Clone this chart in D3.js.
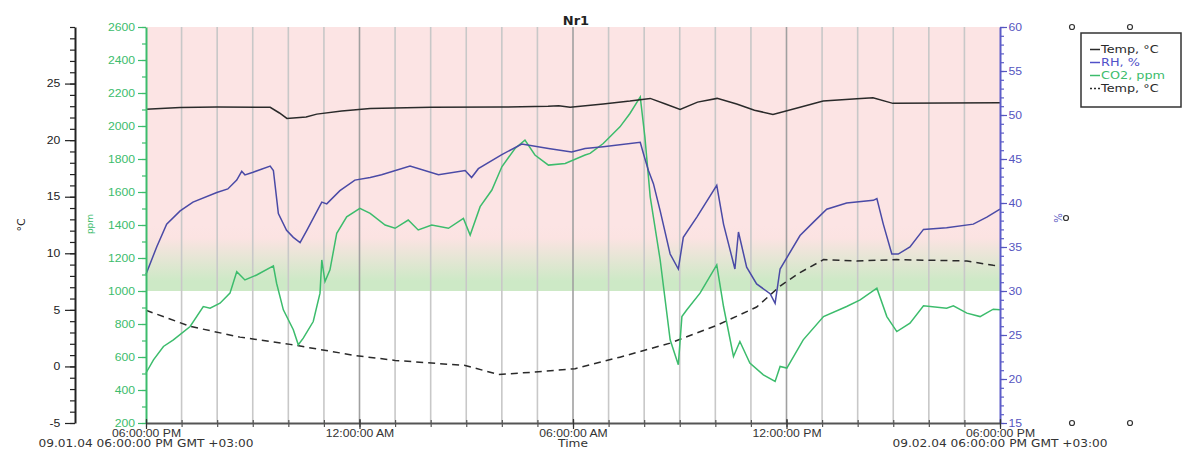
<!DOCTYPE html>
<html>
<head>
<meta charset="utf-8">
<script src="https://cdn.jsdelivr.net/npm/d3@7"></script>
<style>
  body { margin: 0; background: #fff; }
  svg { display: block; font-family: "DejaVu Sans", Verdana, sans-serif; }
</style>
</head>
<body>
<div id="chart"></div>
<script>
// time is in hours after 09.01.04 06:00:00 PM
var timeTicks = [0, 6, 12, 18, 24]
var timeLabels = ["06:00:00 PM", "12:00:00 AM", "06:00:00 AM", "12:00:00 PM", "06:00:00 PM"]
var dateLabels = ["09.01.04 06:00:00 PM GMT +03:00", "Time", "09.02.04 06:00:00 PM GMT +03:00"]
var dateLabelHours = [0, 12, 24]

var tempTicks = [-5, 0, 5, 10, 15, 20, 25]
var co2Ticks = [200, 400, 600, 800, 1000, 1200, 1400, 1600, 1800, 2000, 2200, 2400, 2600]
var rhTicks = [15, 20, 25, 30, 35, 40, 45, 50, 55, 60]

// CO2 limit bands (ppm)
var co2Limit = 1000
var co2Warn = 1400

// Temp, °C (inside)
var tempIn = [[0, 22.72], [0.96, 22.89], [2.0, 22.92], [3.49, 22.9], [3.75, 22.4], [3.96, 21.92], [4.5, 22.05],
  [4.8, 22.3], [5.5, 22.57], [6.3, 22.8], [8.0, 22.9], [10.0, 22.92], [11.3, 23.0], [11.6, 23.05], [11.92, 22.9],
  [12.85, 23.19], [13.6, 23.45], [14.17, 23.69], [14.6, 23.2], [15.01, 22.72], [15.5, 23.36], [16.05, 23.69],
  [16.6, 23.19], [17.1, 22.65], [17.62, 22.27], [18.38, 22.9], [19.03, 23.45], [19.98, 23.65], [20.43, 23.74],
  [20.99, 23.25], [24, 23.3]]

// RH, %
var rh = [[0, 31.9], [0.3, 35.0], [0.58, 37.6], [0.96, 39.1], [1.32, 40.1], [1.99, 41.2], [2.3, 41.6], [2.55, 42.6],
  [2.69, 43.6], [2.78, 43.2], [3.01, 43.5], [3.49, 44.2], [3.58, 43.7], [3.72, 38.8], [3.95, 36.9], [4.14, 36.1],
  [4.33, 35.5], [4.52, 36.9], [4.94, 40.1], [5.08, 39.9], [5.45, 41.4], [5.87, 42.6], [6.3, 42.9], [6.62, 43.2],
  [7.42, 44.2], [8.22, 43.2], [8.97, 43.7], [9.15, 42.9], [9.34, 43.9], [10.0, 45.5], [10.56, 46.7], [11.31, 46.2],
  [11.96, 45.8], [12.34, 46.2], [12.85, 46.4], [13.89, 46.9], [13.98, 45.6], [14.12, 43.7], [14.26, 42.2],
  [14.45, 39.1], [14.73, 34.2], [14.96, 32.5], [15.1, 36.1], [15.48, 38.4], [16.04, 42.0], [16.23, 37.6],
  [16.55, 32.5], [16.65, 36.7], [16.88, 32.7], [17.16, 30.8], [17.54, 29.7], [17.68, 28.6], [17.82, 32.5],
  [18.38, 36.3], [18.75, 37.8], [19.13, 39.3], [19.69, 40.0], [20.44, 40.3], [20.54, 40.5], [20.72, 37.6],
  [20.96, 34.2], [21.14, 34.2], [21.47, 35.0], [21.85, 37.0], [22.5, 37.2], [23.25, 37.6], [23.63, 38.4], [24, 39.3]]

// CO2, ppm
var co2 = [[0, 503], [0.21, 583], [0.49, 664], [0.77, 704], [1.24, 785], [1.61, 906], [1.8, 896], [2.08, 926],
  [2.36, 987], [2.55, 1117], [2.78, 1067], [3.11, 1097], [3.58, 1152], [3.67, 1047], [3.86, 886], [4.14, 765],
  [4.28, 674], [4.42, 714], [4.7, 815], [4.89, 987], [4.94, 1188], [5.03, 1057], [5.17, 1128], [5.36, 1350],
  [5.64, 1450], [6.01, 1501], [6.3, 1471], [6.72, 1400], [7.0, 1380], [7.37, 1430], [7.65, 1370], [8.03, 1400],
  [8.5, 1380], [8.92, 1440], [9.11, 1339], [9.39, 1511], [9.72, 1612], [10.0, 1753], [10.37, 1864], [10.65, 1914],
  [10.93, 1824], [11.31, 1763], [11.78, 1773], [12.34, 1824], [12.48, 1834], [12.85, 1894], [13.32, 1995],
  [13.6, 2076], [13.89, 2176], [14.02, 1934], [14.17, 1571], [14.45, 1188], [14.73, 704], [14.96, 553],
  [15.06, 845], [15.2, 886], [15.57, 987], [16.04, 1158], [16.23, 906], [16.51, 603], [16.69, 694], [16.97, 563],
  [17.35, 492], [17.68, 452], [17.82, 543], [18.01, 533], [18.47, 704], [19.04, 845], [19.69, 906], [20.07, 946],
  [20.54, 1017], [20.82, 845], [21.1, 754], [21.47, 805], [21.85, 910], [22.5, 896], [22.69, 910], [23.07, 866],
  [23.44, 845], [23.81, 890], [24, 886]]

// Temp, °C (outside, dashed)
var tempOut = [[0, 4.96], [1.24, 3.54], [2.64, 2.59], [4.05, 1.95], [5.87, 0.97], [7.0, 0.53], [8.97, 0.09],
  [9.9, -0.71], [10.93, -0.5], [12.06, -0.2], [13.32, 0.82], [14.73, 2.06], [16.04, 3.63], [17.16, 5.25],
  [17.82, 7.1], [18.38, 8.3], [19.04, 9.44], [19.97, 9.32], [21.1, 9.44], [23.07, 9.32], [23.81, 8.94], [24, 8.9]]

var legendNames = ["Temp, °C", "RH, %", "CO2, ppm", "Temp, °C"]

var width = 1186, height = 450
var plotL = 146, plotR = 1000, plotT = 27, plotB = 423
var wide = "scale(1.22,1)"   // the original text is drawn a bit wide

var svg = d3.select("#chart")
  .append("svg")
  .attr("width", width)
  .attr("height", height)

var x = d3.scaleLinear().domain([0, 24]).range([plotL, plotR])
var yT = d3.scaleLinear().domain([-5, 30]).range([plotB, plotT])
var yC = d3.scaleLinear().domain([200, 2600]).range([plotB, plotT])
var yR = d3.scaleLinear().domain([15, 60]).range([plotB, plotT])

var green = "#3cbc6c", blue = "#4a4aa6", black = "#2a2a2a"

// background bands
var defs = svg.append("defs")
var grad = defs.append("linearGradient")
  .attr("id", "band").attr("x1", 0).attr("y1", 0).attr("x2", 0).attr("y2", 1)
grad.append("stop").attr("offset", "0%").attr("stop-color", "#fce4e4")
grad.append("stop").attr("offset", "20%").attr("stop-color", "#fbe3e2")
grad.append("stop").attr("offset", "85%").attr("stop-color", "#cde9c6")
grad.append("stop").attr("offset", "100%").attr("stop-color", "#cde9c6")

svg.append("rect")
  .attr("x", plotL).attr("width", plotR - plotL)
  .attr("y", yC(2600)).attr("height", yC(co2Warn) - yC(2600))
  .style("fill", "#fce4e4")
svg.append("rect")
  .attr("x", plotL).attr("width", plotR - plotL)
  .attr("y", yC(co2Warn)).attr("height", yC(co2Limit) - yC(co2Warn))
  .style("fill", "url(#band)")

// hourly grid
svg.append("g")
  .selectAll("line")
  .data(d3.range(1, 24))
  .enter().append("line")
  .attr("x1", function (d) { return x(d) })
  .attr("x2", function (d) { return x(d) })
  .attr("y1", plotT).attr("y2", plotB)
  .style("stroke", function (d) { return d % 6 == 0 ? "#a0a0a0" : "#c8c8c8" })
  .style("stroke-width", 1.6)

// lines
function line(scale) {
  return d3.line()
    .x(function (d) { return x(d[0]) })
    .y(function (d) { return scale(d[1]) })
}

svg.append("path").datum(tempOut).attr("d", line(yT))
  .style("fill", "none").style("stroke", black).style("stroke-width", 1.5)
  .style("stroke-dasharray", "7,5")
svg.append("path").datum(co2).attr("d", line(yC))
  .style("fill", "none").style("stroke", green).style("stroke-width", 1.5)
svg.append("path").datum(rh).attr("d", line(yR))
  .style("fill", "none").style("stroke", blue).style("stroke-width", 1.5)
svg.append("path").datum(tempIn).attr("d", line(yT))
  .style("fill", "none").style("stroke", black).style("stroke-width", 1.5)

// axes
function styleAxis(g, color, size) {
  g.select(".domain").style("stroke", color).style("stroke-width", 2)
  g.selectAll(".tick line").style("stroke", color).style("stroke-width", 1.2)
  g.selectAll(".tick text").style("fill", color).style("font-size", size + "px")
    .attr("transform", wide)
}
var plain = function (d) { return String(d) }

// Temp axis (left)
var gTm = svg.append("g").attr("transform", "translate(75,0)")
  .call(d3.axisLeft(yT).tickValues(d3.range(-5, 31)).tickSize(5).tickSizeOuter(0).tickFormat(""))
styleAxis(gTm, "#222", 10)
var gT = svg.append("g").attr("transform", "translate(75,0)")
  .call(d3.axisLeft(yT).tickValues(tempTicks).tickSize(10).tickPadding(2).tickSizeOuter(0).tickFormat(plain))
styleAxis(gT, "#222", 10)
gT.select(".domain").remove()

// CO2 axis (left, inner)
var gCm = svg.append("g").attr("transform", "translate(" + plotL + ",0)")
  .call(d3.axisLeft(yC).tickValues(d3.range(200, 2601, 100)).tickSize(4).tickSizeOuter(0).tickFormat(""))
styleAxis(gCm, green, 10)
var gC = svg.append("g").attr("transform", "translate(" + plotL + ",0)")
  .call(d3.axisLeft(yC).tickValues(co2Ticks).tickSize(8).tickPadding(1).tickSizeOuter(0).tickFormat(plain))
styleAxis(gC, green, 10)
gC.select(".domain").remove()

// RH axis (right)
var gRm = svg.append("g").attr("transform", "translate(" + plotR + ",0)")
  .call(d3.axisRight(yR).tickValues(d3.range(15, 61)).tickSize(4).tickSizeOuter(0).tickFormat(""))
styleAxis(gRm, "#5c5cc8", 10)
var gR = svg.append("g").attr("transform", "translate(" + plotR + ",0)")
  .call(d3.axisRight(yR).tickValues(rhTicks).tickSize(7).tickPadding(0).tickSizeOuter(0).tickFormat(plain))
styleAxis(gR, "#5555c0", 10)
gR.select(".domain").remove()

// time axis
var gXm = svg.append("g").attr("transform", "translate(0," + plotB + ")")
  .call(d3.axisBottom(x).tickValues(d3.range(0, 25)).tickSize(4).tickSizeOuter(0).tickFormat(""))
styleAxis(gXm, "#555", 10)
gXm.selectAll(".tick line").attr("y1", -3)
var gX = svg.append("g").attr("transform", "translate(0," + plotB + ")")
  .call(d3.axisBottom(x).tickValues(timeTicks).tickSize(6).tickPadding(1).tickSizeOuter(0)
    .tickFormat(function (d, i) { return timeLabels[i] }))
styleAxis(gX, "#333", 10)
gX.select(".domain").remove()
gX.selectAll(".tick line").attr("y1", -4)

svg.append("g")
  .selectAll("text")
  .data(dateLabels)
  .enter().append("text")
  .attr("transform", function (d, i) { return "translate(" + x(dateLabelHours[i]) + ",447) " + wide })
  .style("text-anchor", "middle")
  .style("font-size", "10px")
  .style("fill", "#333")
  .text(function (d) { return d })

// axis titles
svg.append("text").attr("transform", "translate(25,225) rotate(-90)")
  .style("text-anchor", "middle").style("font-size", "11px").style("fill", "#222").text("°C")
svg.append("text").attr("transform", "translate(93,224) rotate(-90)")
  .style("text-anchor", "middle").style("font-size", "9px").style("fill", green).text("ppm")
svg.append("text").attr("transform", "translate(1054,218) rotate(90)")
  .style("text-anchor", "middle").style("font-size", "10px").style("fill", "#5555c0").text("%")

// title
svg.append("text").attr("x", 576).attr("y", 25)
  .style("text-anchor", "middle").style("font-size", "13px").style("font-weight", "bold")
  .style("fill", "#222").text("Nr1")

// empty axis markers
var markers = [[1072, plotT], [1130, plotT], [1066, 218], [1072, plotB], [1130, plotB]]
svg.append("g").selectAll("circle")
  .data(markers)
  .enter().append("circle")
  .attr("cx", function (d) { return d[0] })
  .attr("cy", function (d) { return d[1] })
  .attr("r", 2.5)
  .style("fill", "none").style("stroke", "#333").style("stroke-width", 1.2)

// legend
var legend = svg.append("g").attr("transform", "translate(1081,33)")
legend.append("rect").attr("width", 100).attr("height", 74)
  .style("fill", "#fff").style("stroke", "#333").style("stroke-width", 1.5)
var legendColors = [black, "#5050c8", green, black]
var item = legend.selectAll(".item")
  .data(legendNames)
  .enter().append("g")
  .attr("transform", function (d, i) { return "translate(9," + (20 + i * 13) + ")" })
item.append("line")
  .attr("x1", 0).attr("x2", 10).attr("y1", -3.5).attr("y2", -3.5)
  .style("stroke", function (d, i) { return legendColors[i] })
  .style("stroke-width", 1.5)
  .style("stroke-dasharray", function (d, i) { return i == 3 ? "2,2" : null })
item.append("text")
  .attr("transform", "translate(11,0) " + wide)
  .style("font-size", "10.5px")
  .style("fill", function (d, i) { return legendColors[i] })
  .text(function (d) { return d })
</script>
</body>
</html>
